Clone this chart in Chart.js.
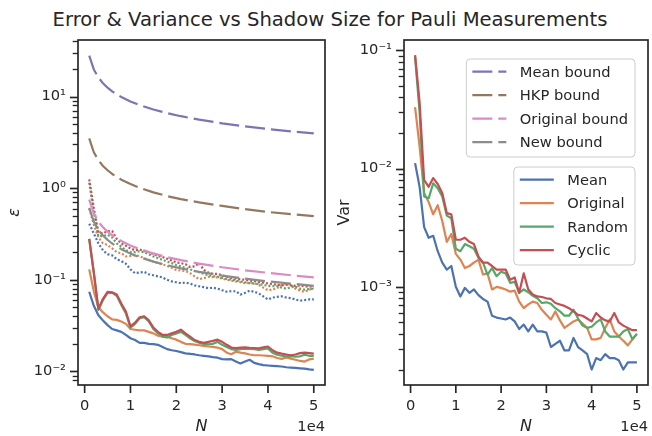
<!DOCTYPE html>
<html>
<head>
<meta charset="utf-8">
<script src="https://cdn.jsdelivr.net/npm/chart.js@4.4.0/dist/chart.umd.min.js"></script>
<style>
  html, body { margin: 0; padding: 0; background: #fff; }
  #wrap { position: relative; width: 652px; height: 436px; overflow: hidden; }
  #title { position: absolute; left: 0; top: 8px; width: 660px; text-align: center;
           font: 19.6px "DejaVu Sans"; line-height: 24px; color: #262626; white-space: nowrap; }
  canvas { position: absolute; top: 0; }
</style>
</head>
<body>
<div id="wrap">
  <div id="title">Error &amp; Variance vs Shadow Size for Pauli Measurements</div>
  <canvas id="errChart" width="330" height="436" style="left:0"></canvas>
  <canvas id="varChart" width="322" height="436" style="left:330px"></canvas>
</div>
<script>
// shadow sizes
const N = [1000, 2000, 3000, 4000, 5000, 6000, 7000, 8000, 9000, 10000,
  11000, 12000, 13000, 14000, 15000, 16000, 17000, 18000, 19000, 20000,
  21000, 22000, 23000, 24000, 25000, 26000, 27000, 28000, 29000, 30000,
  31000, 32000, 33000, 34000, 35000, 36000, 37000, 38000, 39000, 40000,
  41000, 42000, 43000, 44000, 45000, 46000, 47000, 48000, 49000, 50000];

// bounds (read at fewer sizes, they are smooth)
const boundN = [1000, 2000, 3000, 4000, 5000, 6000, 8000, 10000, 12000, 15000,
  18000, 21000, 25000, 30000, 35000, 40000, 45000, 50000];
const meanBound = [28, 19.8, 16.2, 14.0, 12.5, 11.4, 9.9, 8.85, 8.08, 7.23, 6.6, 6.11, 5.6, 5.11, 4.73, 4.43, 4.17, 3.96];
const hkpBound = [3.5, 2.47, 2.02, 1.75, 1.57, 1.43, 1.24, 1.11, 1.01, 0.9, 0.82, 0.76, 0.7, 0.64, 0.59, 0.55, 0.52, 0.495];
const originalBound = [0.75, 0.53, 0.43, 0.375, 0.335, 0.306, 0.265, 0.237, 0.217, 0.194, 0.177, 0.164, 0.15, 0.137, 0.127, 0.119, 0.112, 0.106];
const newBound = [0.61, 0.43, 0.35, 0.305, 0.273, 0.249, 0.216, 0.193, 0.176, 0.158, 0.144, 0.133, 0.122, 0.111, 0.103, 0.096, 0.091, 0.086];

// error, solid lines
const errMean = [0.074, 0.052, 0.041, 0.036, 0.032, 0.029, 0.028, 0.027, 0.025, 0.023,
  0.022, 0.0205, 0.0205, 0.02, 0.0198, 0.0195, 0.0185, 0.0175, 0.017, 0.0167,
  0.0162, 0.0157, 0.0155, 0.0153, 0.015, 0.0148, 0.0146, 0.0143, 0.0141, 0.0136,
  0.0135, 0.0136, 0.0128, 0.0122, 0.0128, 0.0134, 0.0124, 0.012, 0.0117, 0.0116,
  0.0115, 0.0114, 0.0113, 0.0111, 0.011, 0.0109, 0.0108, 0.0107, 0.0105, 0.0104];
const errOriginal = [0.13, 0.075, 0.05, 0.044, 0.04, 0.037, 0.0365, 0.035, 0.033, 0.029,
  0.0285, 0.028, 0.028, 0.027, 0.026, 0.0245, 0.024, 0.0237, 0.023, 0.0222,
  0.021, 0.02, 0.0198, 0.0196, 0.0193, 0.019, 0.0187, 0.0185, 0.0182, 0.0175,
  0.016, 0.0154, 0.0164, 0.016, 0.0157, 0.0153, 0.015, 0.015, 0.0149, 0.0148,
  0.0146, 0.014, 0.0137, 0.0142, 0.0138, 0.0134, 0.013, 0.0128, 0.0135, 0.0138];
const errRandom = [0.28, 0.12, 0.047, 0.06, 0.072, 0.072, 0.067, 0.053, 0.043, 0.03,
  0.033, 0.038, 0.039, 0.035, 0.029, 0.026, 0.024, 0.0235, 0.025, 0.026,
  0.027, 0.025, 0.023, 0.0215, 0.0205, 0.02, 0.0197, 0.02, 0.021, 0.0195,
  0.0185, 0.0175, 0.0172, 0.0175, 0.0177, 0.0176, 0.0175, 0.0172, 0.0175, 0.0178,
  0.016, 0.0152, 0.0148, 0.0146, 0.0147, 0.0145, 0.0146, 0.0152, 0.0148, 0.0148];
const errCyclic = [0.28, 0.12, 0.048, 0.062, 0.074, 0.073, 0.069, 0.055, 0.045, 0.031,
  0.034, 0.039, 0.04, 0.036, 0.03, 0.027, 0.025, 0.025, 0.026, 0.027,
  0.0285, 0.026, 0.024, 0.022, 0.021, 0.0205, 0.021, 0.0215, 0.0222, 0.021,
  0.0195, 0.0182, 0.018, 0.0182, 0.0183, 0.0181, 0.018, 0.0178, 0.0183, 0.0187,
  0.017, 0.016, 0.0156, 0.0153, 0.015, 0.0153, 0.0158, 0.016, 0.0158, 0.0156];

// error, dotted lines
const dotMean = [0.41, 0.32, 0.25, 0.21, 0.19, 0.185, 0.168, 0.16, 0.15, 0.13,
  0.118, 0.12, 0.122, 0.115, 0.112, 0.109, 0.106, 0.1, 0.096, 0.094,
  0.092, 0.093, 0.091, 0.087, 0.085, 0.083, 0.081, 0.082, 0.08, 0.077,
  0.074, 0.075, 0.075, 0.069, 0.072, 0.076, 0.074, 0.071, 0.066, 0.061,
  0.064, 0.065, 0.066, 0.064, 0.063, 0.061, 0.059, 0.06, 0.061, 0.061];
const dotOriginal = [0.6, 0.4, 0.29, 0.25, 0.24, 0.22, 0.2, 0.195, 0.18, 0.182,
  0.187, 0.18, 0.172, 0.165, 0.158, 0.152, 0.147, 0.142, 0.135, 0.128,
  0.126, 0.125, 0.118, 0.109, 0.102, 0.104, 0.108, 0.107, 0.106, 0.103,
  0.1, 0.098, 0.096, 0.094, 0.092, 0.092, 0.092, 0.088, 0.082, 0.077,
  0.078, 0.081, 0.088, 0.091, 0.088, 0.08, 0.076, 0.074, 0.078, 0.081];
const dotRandom = [1.15, 0.55, 0.3, 0.3, 0.31, 0.29, 0.25, 0.23, 0.21, 0.2,
  0.2, 0.205, 0.2, 0.19, 0.18, 0.172, 0.165, 0.158, 0.152, 0.145,
  0.14, 0.135, 0.13, 0.125, 0.121, 0.116, 0.112, 0.11, 0.108, 0.105,
  0.102, 0.1, 0.098, 0.096, 0.094, 0.092, 0.091, 0.09, 0.088, 0.086,
  0.085, 0.086, 0.082, 0.08, 0.083, 0.084, 0.08, 0.078, 0.079, 0.08];
const dotCyclic = [1.25, 0.6, 0.33, 0.32, 0.34, 0.34, 0.28, 0.25, 0.235, 0.22,
  0.21, 0.215, 0.205, 0.2, 0.19, 0.182, 0.177, 0.17, 0.162, 0.155,
  0.152, 0.148, 0.138, 0.14, 0.152, 0.128, 0.12, 0.116, 0.116, 0.112,
  0.108, 0.105, 0.103, 0.101, 0.1, 0.098, 0.097, 0.095, 0.093, 0.091,
  0.09, 0.088, 0.087, 0.088, 0.087, 0.086, 0.087, 0.085, 0.084, 0.085];

// variance
const varMean = [0.0111, 0.007, 0.0032, 0.0026, 0.0027, 0.002, 0.0016, 0.0014, 0.0015, 0.001,
  0.00083, 0.00098, 0.00089, 0.00095, 0.00085, 0.00079, 0.00075, 0.00057, 0.00055, 0.00054,
  0.00053, 0.00055, 0.00051, 0.00044, 0.00048, 0.00042, 0.00048, 0.00042, 0.00042, 0.00041,
  0.00031, 0.00033, 0.00035, 0.00029, 0.00029, 0.00037, 0.00031, 0.00029, 0.00027, 0.0002,
  0.00025, 0.00024, 0.00027, 0.00025, 0.00025, 0.00024, 0.0002, 0.00023, 0.00023, 0.00023];
const varOriginal = [0.033, 0.0153, 0.0062, 0.0052, 0.0041, 0.0049, 0.0036, 0.0024, 0.0028, 0.0019,
  0.0017, 0.00144, 0.0015, 0.0016, 0.0017, 0.00127, 0.0013, 0.00095, 0.001, 0.00098,
  0.00095, 0.00091, 0.00093, 0.00075, 0.00066, 0.00071, 0.00075, 0.00073, 0.00064, 0.00058,
  0.00053, 0.00062, 0.00052, 0.00045, 0.00048, 0.00051, 0.00053, 0.00049, 0.00045, 0.00036,
  0.00036, 0.00037, 0.00045, 0.00053, 0.00042, 0.00038, 0.00035, 0.00032, 0.00036, 0.0004];
const varRandom = [0.088, 0.03, 0.0058, 0.0056, 0.0075, 0.0068, 0.0058, 0.004, 0.0038, 0.0021,
  0.002, 0.0023, 0.0022, 0.0021, 0.00176, 0.0016, 0.00127, 0.00144, 0.00123, 0.00134,
  0.0013, 0.00108, 0.0011, 0.00089, 0.00095, 0.0009, 0.00084, 0.0008, 0.00073, 0.00074,
  0.00072, 0.00066, 0.00062, 0.00057, 0.00057, 0.00064, 0.00054, 0.00047, 0.00045, 0.00046,
  0.0005, 0.00053, 0.00042, 0.00038, 0.00038, 0.00038, 0.00042, 0.00044, 0.00036, 0.0004];
const varCyclic = [0.091, 0.036, 0.008, 0.007, 0.0083, 0.0074, 0.0062, 0.0042, 0.0041, 0.0025,
  0.0025, 0.0026, 0.0024, 0.0023, 0.0018, 0.0016, 0.0016, 0.0015, 0.0014, 0.0014,
  0.0014, 0.00115, 0.0012, 0.00089, 0.0013, 0.00095, 0.00086, 0.00083, 0.00082, 0.0008,
  0.00079, 0.00073, 0.00071, 0.00069, 0.00066, 0.00062, 0.00058, 0.00057, 0.00054, 0.00051,
  0.0006, 0.00055, 0.00052, 0.00051, 0.0006, 0.0005, 0.00047, 0.00045, 0.00043, 0.00043];

const xTicks = [0, 10000, 20000, 30000, 40000, 50000];
const errDecades = [0.001, 0.01, 0.1, 1, 10];
const varDecades = [0.0001, 0.001, 0.01, 0.1];
const boundLabels = ['Mean bound', 'HKP bound', 'Original bound', 'New bound'];
const seriesLabels = ['Mean', 'Original', 'Random', 'Cyclic'];

const FONT = '"DejaVu Sans"';
const TXT = '#262626';
const BLUE = '#4C72B0', ORANGE = '#DD8452', GREEN = '#55A868', RED = '#C44E52';
const PURPLE = '#8172B3', BROWN = '#937860', PINK = '#DA8BC3', GREY = '#8C8C8C';
const DASH = [20, 6], DOT = [2, 2];

const pts = (xs, ys) => xs.map((x, i) => ({ x, y: ys[i] }));
const line = (data, color, dash) => ({
  data, borderColor: color, borderWidth: 2.2, borderDash: dash || [],
  pointRadius: 0, tension: 0, borderJoinStyle: 'round', fill: false,
});

const SUP = { '-': '\u207B', '0': '\u2070', '1': '\u00B9', '2': '\u00B2', '3': '\u00B3',
  '4': '\u2074', '5': '\u2075', '6': '\u2076', '7': '\u2077', '8': '\u2078', '9': '\u2079' };
const isMajor = v => { const e = Math.log10(v); return Math.abs(e - Math.round(e)) < 1e-6; };
const powLabel = v => '10' + String(Math.round(Math.log10(v))).split('').map(c => SUP[c]).join('');
function logTicks(decades, min, max) {
  const out = [];
  decades.forEach(d => { for (let m = 1; m < 10; m++) { const v = m * d; if (v >= min && v <= max) out.push({ value: v }); } });
  return out;
}

const frame = {
  id: 'frame',
  afterDraw(chart) {
    const { ctx, chartArea: a, scales: { x, y } } = chart;
    ctx.save();
    ctx.strokeStyle = TXT;
    y.ticks.forEach(t => {
      const py = Math.round(y.getPixelForValue(t.value)) + 0.5, maj = isMajor(t.value);
      ctx.lineWidth = maj ? 1.67 : 1.33;
      ctx.beginPath(); ctx.moveTo(a.left, py); ctx.lineTo(a.left - (maj ? 8 : 5.3), py); ctx.stroke();
    });
    ctx.lineWidth = 1.67;
    x.ticks.forEach(t => {
      const px = x.getPixelForValue(t.value);
      ctx.beginPath(); ctx.moveTo(px, a.bottom); ctx.lineTo(px, a.bottom + 8); ctx.stroke();
    });
    ctx.strokeRect(a.left, a.top, a.right - a.left, a.bottom - a.top);
    ctx.fillStyle = TXT;
    ctx.font = '14.67px ' + FONT;
    ctx.textAlign = 'right'; ctx.textBaseline = 'middle';
    ctx.fillText('1e4', a.right, 427);
    ctx.restore();
  }
};

function drawLegend(ctx, right, top, items) {
  ctx.save();
  ctx.font = '14.67px ' + FONT;
  const tw = Math.max(...items.map(it => ctx.measureText(it.label).width));
  const w = 6 + 34 + 13.5 + tw + 7, h = 4 + items.length * 23.5;
  const left = right - w;
  ctx.beginPath();
  ctx.roundRect(left, top, w, h, 4);
  ctx.fillStyle = 'rgba(255,255,255,0.8)';
  ctx.fill();
  ctx.strokeStyle = '#cccccc'; ctx.lineWidth = 1;
  ctx.stroke();
  items.forEach((it, i) => {
    const cy = top + 12.7 + i * 23.5;
    ctx.strokeStyle = it.color; ctx.lineWidth = 2.2; ctx.setLineDash(it.dash);
    ctx.beginPath(); ctx.moveTo(left + 6, cy); ctx.lineTo(left + 40, cy); ctx.stroke();
    ctx.setLineDash([]);
    ctx.fillStyle = TXT; ctx.textAlign = 'left'; ctx.textBaseline = 'middle';
    ctx.fillText(it.label, left + 53.5, cy + 1);
  });
  ctx.restore();
}

const legends = {
  id: 'legends',
  afterDraw(chart) {
    const { ctx, chartArea: a } = chart;
    const bColors = [PURPLE, BROWN, PINK, GREY], sColors = [BLUE, ORANGE, GREEN, RED];
    drawLegend(ctx, a.right - 13, a.top + 19, boundLabels.map((label, i) => ({ label, color: bColors[i], dash: DASH })));
    drawLegend(ctx, a.right - 13, a.top + 127, seriesLabels.map((label, i) => ({ label, color: sColors[i], dash: [] })));
  }
};

function options(yMin, yMax, decades, yTitle, yStyle, yWidth, pad) {
  return {
    responsive: false, animation: false, devicePixelRatio: 1,
    layout: { padding: pad },
    plugins: { legend: { display: false }, tooltip: { enabled: false } },
    scales: {
      x: {
        type: 'linear', min: -1450, max: 52450,
        afterBuildTicks: s => { s.ticks = xTicks.map(v => ({ value: v })); },
        afterFit: s => { s.height = 51; s.paddingLeft = 0; s.paddingRight = 0; },
        grid: { display: false, drawTicks: false }, border: { display: false },
        ticks: { padding: 12, autoSkip: false, maxRotation: 0, color: TXT,
          font: { family: FONT, size: 14.67 }, callback: v => String(v / 10000) },
        title: { display: true, text: 'N', color: TXT, padding: { top: 0, bottom: 0 },
          font: { family: FONT, size: 16, style: 'italic' } }
      },
      y: {
        type: 'logarithmic', min: yMin, max: yMax,
        afterBuildTicks: s => { s.ticks = logTicks(decades, yMin, yMax); },
        afterFit: s => { s.width = yWidth; s.paddingTop = 0; s.paddingBottom = 0; },
        grid: { display: false, drawTicks: false }, border: { display: false },
        ticks: { padding: 12, autoSkip: false, color: TXT, font: { family: FONT, size: 14.67 },
          callback: v => isMajor(v) ? powLabel(v) : '' },
        title: { display: true, text: yTitle, color: TXT, padding: { top: 5, bottom: 0 },
          font: { family: FONT, size: 16, style: yStyle } }
      }
    }
  };
}

new Chart(document.getElementById('errChart'), {
  type: 'line',
  data: {
    datasets: [
      line(pts(N, errCyclic), RED),
      line(pts(N, errRandom), GREEN),
      line(pts(N, errOriginal), ORANGE),
      line(pts(N, errMean), BLUE),
      line(pts(boundN, newBound), GREY, DASH),
      line(pts(boundN, originalBound), PINK, DASH),
      line(pts(boundN, hkpBound), BROWN, DASH),
      line(pts(boundN, meanBound), PURPLE, DASH),
      line(pts(N, dotCyclic), RED, DOT),
      line(pts(N, dotRandom), GREEN, DOT),
      line(pts(N, dotOriginal), ORANGE, DOT),
      line(pts(N, dotMean), BLUE, DOT),
    ]
  },
  options: options(0.0071, 41.5, errDecades, '\u03B5', 'italic', 78, { left: 0, right: 5, top: 40, bottom: 0 }),
  plugins: [frame]
});

new Chart(document.getElementById('varChart'), {
  type: 'line',
  data: {
    datasets: [
      line(pts(N, varCyclic), RED),
      line(pts(N, varRandom), GREEN),
      line(pts(N, varOriginal), ORANGE),
      line(pts(N, varMean), BLUE),
    ]
  },
  options: options(0.000148, 0.122, varDecades, 'Var', 'normal', 74, { left: 0, right: 4, top: 40, bottom: 0 }),
  plugins: [frame, legends]
});
</script>
</body>
</html>
